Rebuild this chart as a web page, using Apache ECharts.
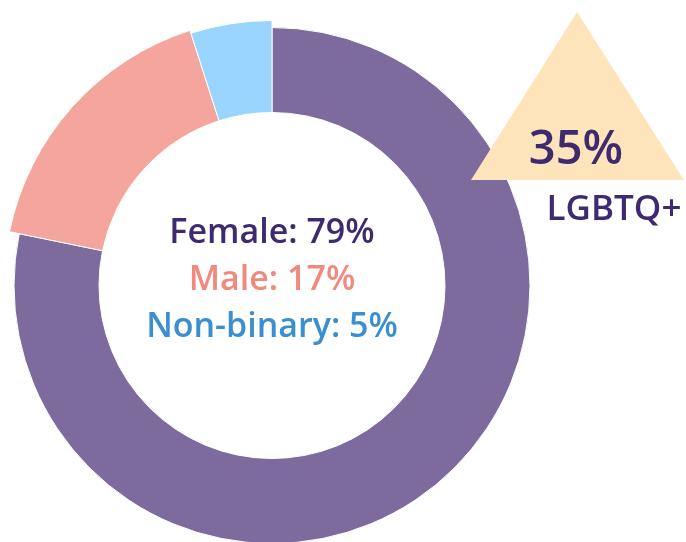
<!DOCTYPE html>
<html>
<head>
<meta charset="utf-8">
<script src="https://cdn.jsdelivr.net/npm/echarts@6/dist/echarts.min.js"></script>
<style>html,body{margin:0;padding:0;background:#fff}#c{width:686px;height:542px}</style>
</head>
<body>
<div id="c"></div>
<script>
const categories = ['Female', 'Male', 'Non-binary'];
const values = [79, 17, 5];
const sliceColors = ['#7D6B9D', '#F4A69E', '#99D5FF'];
const textColors = ['#3F2A70', '#F08A7E', '#3A8FD0'];
const lgbtqValue = 35;
const lgbtqLabel = 'LGBTQ+';

const outerRadii = [258, 268, 265];
const FONT = '"Open Sans", "DejaVu Sans", sans-serif';

const series = categories.map((c, i) => ({
  type: 'pie',
  silent: true,
  center: [272, 285.5],
  radius: [173, outerRadii[i]],
  startAngle: 90,
  clockwise: true,
  label: { show: false },
  labelLine: { show: false },
  animation: false,
  data: categories.map((name, j) => ({
    name: name,
    value: values[j],
    itemStyle: j === i
      ? { color: sliceColors[j], borderColor: '#fff', borderWidth: 1 }
      : { color: 'rgba(0,0,0,0)', borderWidth: 0 }
  }))
}));

const lineY = [233, 280, 327];
const centerTexts = categories.map((c, i) => ({
  type: 'text',
  x: 272,
  y: lineY[i],
  style: {
    text: c + ': ' + values[i] + '%',
    fill: textColors[i],
    font: '600 34px ' + FONT,
    textAlign: 'center',
    textVerticalAlign: 'middle'
  }
}));

const chart = echarts.init(document.getElementById('c'), null, { renderer: 'canvas' });
chart.setOption({
  backgroundColor: '#fff',
  animation: false,
  series: series,
  graphic: [
    {
      type: 'polygon',
      shape: { points: [[577, 12], [471, 180], [684, 180]] },
      style: { fill: '#FEE4BA' },
      z: 10
    },
    {
      type: 'text',
      x: 576,
      y: 151,
      z: 11,
      style: {
        text: lgbtqValue + '%',
        fill: '#3F2A70',
        font: '600 47px ' + FONT,
        textAlign: 'center',
        textVerticalAlign: 'middle'
      }
    },
    {
      type: 'text',
      x: 614,
      y: 210,
      z: 11,
      style: {
        text: lgbtqLabel,
        fill: '#3F2A70',
        font: '600 35px ' + FONT,
        textAlign: 'center',
        textVerticalAlign: 'middle'
      }
    }
  ].concat(centerTexts)
});
</script>
</body>
</html>
